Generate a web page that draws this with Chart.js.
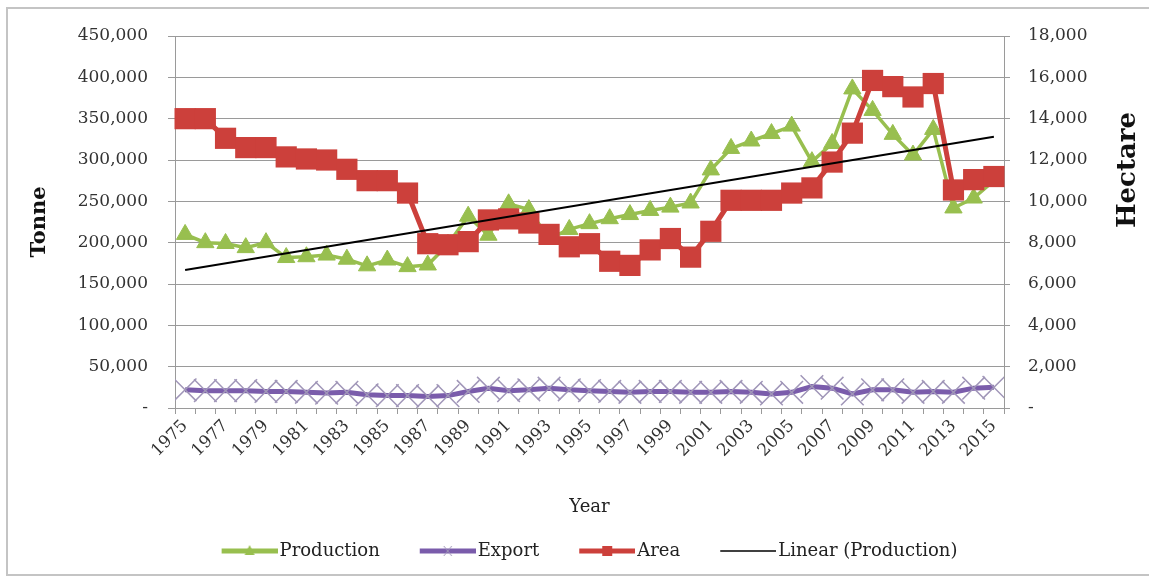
<!DOCTYPE html>
<html><head><meta charset="utf-8">
<script src="https://cdn.jsdelivr.net/npm/chart.js@4.4.1/dist/chart.umd.min.js"></script>
<style>
html,body{margin:0;padding:0;background:#fff;overflow:hidden;}
#wrap{position:relative;width:1149px;height:583px;}
#frame{position:absolute;left:6px;top:7px;width:1170px;height:569px;border:2px solid #c4c4c4;box-sizing:border-box;}
canvas{position:absolute;left:0;top:0;}
</style></head><body>
<div id="wrap"><div id="frame"></div><canvas id="c" width="1149" height="583"></canvas></div>
<script>
const years = ['1975','1976','1977','1978','1979','1980','1981','1982','1983','1984','1985','1986','1987','1988','1989','1990','1991','1992','1993','1994','1995','1996','1997','1998','1999','2000','2001','2002','2003','2004','2005','2006','2007','2008','2009','2010','2011','2012','2013','2014','2015'];
const production = [210000,200000,199000,194000,200000,182000,183000,185000,180000,172000,179000,171000,173000,198000,232000,209000,247000,240000,205000,216000,223000,229000,234000,239000,243000,248000,288000,314000,323000,332000,341000,298000,320000,386000,360000,331000,306000,337000,242000,254000,275000];
const exportT = [22000,21000,21000,21000,20000,20000,19000,18000,19000,16000,15000,15000,14000,15000,20000,24000,21000,22000,24000,22000,21000,20000,19000,20000,20000,19000,19000,20000,19000,17000,19000,26000,24000,17000,22000,22000,19000,20000,19000,24000,25000];
const area = [14000,14000,13050,12600,12600,12150,12050,12000,11550,11000,11000,10400,7950,7900,8050,9100,9150,8950,8400,7800,7950,7100,6900,7650,8200,7300,8550,10050,10050,10050,10400,10650,11900,13300,15850,15550,15050,15700,10550,11050,11200];
const trendYears = ['1975','2015'];
const trendValues = [167000,328000];
const leftTicks = {min:0, max:450000, step:50000};
const rightTicks = {min:0, max:18000, step:2000};

const GREEN='#98bf4f', RED='#cc403b', PURPLE='#7a5cab', XCOL='#a096b8';
const FONT='"DejaVu Serif", "Liberation Serif", serif';
const fmt = v => v===0 ? '-' : Number(v).toLocaleString('en-US');

function legendIcon(kind){
  const W=93,H=22,c=document.createElement('canvas');c.width=W;c.height=H;
  const g=c.getContext('2d');const x0=37,x1=93,cy=H/2,mx=(x0+x1)/2;
  g.lineCap='butt';
  if(kind==='trend'){g.strokeStyle='#000';g.lineWidth=1.5;}
  else{g.strokeStyle=kind==='prod'?GREEN:kind==='exp'?PURPLE:RED;g.lineWidth=5;}
  g.beginPath();g.moveTo(x0,cy);g.lineTo(x1,cy);g.stroke();
  if(kind==='prod'){g.fillStyle=GREEN;g.beginPath();g.moveTo(mx,cy-6);g.lineTo(mx+5,cy+4);g.lineTo(mx-5,cy+4);g.closePath();g.fill();}
  if(kind==='area'){g.fillStyle=RED;g.fillRect(mx-5,cy-5,10,10);}
  if(kind==='exp'){g.strokeStyle=XCOL;g.lineWidth=1;g.beginPath();g.moveTo(mx-4,cy-5);g.lineTo(mx+4,cy+5);g.moveTo(mx+4,cy-5);g.lineTo(mx-4,cy+5);g.stroke();}
  return c;
}
const icons=[legendIcon('prod'),legendIcon('exp'),legendIcon('area'),legendIcon('trend')];

const hectarePlugin={id:'hectare',afterDraw(chart){
  const ctx=chart.ctx,s=chart.scales.y2;ctx.save();
  ctx.translate(s.right-21,chart.chartArea.top+134);ctx.rotate(-Math.PI/2);
  ctx.font='bold 26px '+FONT;ctx.fillStyle='#111';ctx.textAlign='center';ctx.textBaseline='middle';
  ctx.fillText('Hectare',0,0);ctx.restore();}};

new Chart(document.getElementById('c'),{
  type:'line',
  data:{labels:years,datasets:[
    {label:'Production',data:production,yAxisID:'y',borderColor:GREEN,backgroundColor:GREEN,borderWidth:3.5,tension:0,
     pointStyle:'triangle',pointRadius:10,pointBackgroundColor:GREEN,pointBorderColor:GREEN,pointBorderWidth:1,order:2},
    {label:'Export',data:exportT,yAxisID:'y',borderColor:PURPLE,backgroundColor:PURPLE,borderWidth:5,tension:0,clip:0,
     pointStyle:'crossRot',pointRadius:16,pointBorderColor:XCOL,pointBorderWidth:1.5,order:3},
    {label:'Area',data:area,yAxisID:'y2',borderColor:RED,backgroundColor:RED,borderWidth:5,tension:0,
     pointStyle:'rect',pointRadius:15,pointBackgroundColor:RED,pointBorderColor:RED,pointBorderWidth:0,order:1},
    {label:'Linear (Production)',data:trendYears.map((y,i)=>({x:y,y:trendValues[i]})),yAxisID:'y',borderColor:'#000',
     borderWidth:2,pointRadius:0,tension:0,spanGaps:true,order:0}
  ]},
  options:{
    responsive:false,animation:false,
    layout:{padding:{top:36,bottom:13,left:0,right:0}},
    plugins:{
      tooltip:{enabled:false},
      legend:{position:'bottom',labels:{
        usePointStyle:true,pointStyleWidth:79,padding:10,color:'#222',font:{family:FONT,size:18},
        generateLabels:(chart)=>chart.data.datasets.map((d,i)=>({text:d.label,datasetIndex:i,pointStyle:icons[i],
          fillStyle:'transparent',strokeStyle:'transparent',lineWidth:0,hidden:false,fontColor:'#222'}))
      }}
    },
    scales:{
      x:{type:'category',offset:true,
        grid:{offset:true,drawOnChartArea:false,tickLength:6,color:'#9a9a9a'},
        border:{color:'#9a9a9a'},
        ticks:{autoSkip:false,minRotation:45,maxRotation:45,padding:2,color:'#333',font:{family:FONT,size:17},
          callback:(v,i)=> i%2===0 ? years[i] : ''},
        title:{display:true,text:'Year',color:'#222',font:{family:FONT,size:18},padding:{top:0,bottom:14}},
        afterFit:s=>{s.height=124;}},
      y:{position:'left',min:leftTicks.min,max:leftTicks.max,
        ticks:{stepSize:leftTicks.step,callback:fmt,padding:20,color:'#333',font:{family:FONT,size:17}},
        grid:{color:'#9a9a9a',lineWidth:1,tickLength:7},
        border:{color:'#9a9a9a'},
        title:{display:true,text:'Tonne',color:'#111',font:{family:FONT,size:21,weight:'bold'},padding:{top:27,bottom:0}},
        afterFit:s=>{s.width=175;}},
      y2:{position:'right',min:rightTicks.min,max:rightTicks.max,
        ticks:{stepSize:rightTicks.step,callback:fmt,padding:18,color:'#333',font:{family:FONT,size:17}},
        grid:{drawOnChartArea:false,tickLength:6,color:'#9a9a9a'},
        border:{color:'#9a9a9a'},
        afterFit:s=>{s.width=145;}}
    }
  },
  plugins:[hectarePlugin]
});
</script>
</body></html>
